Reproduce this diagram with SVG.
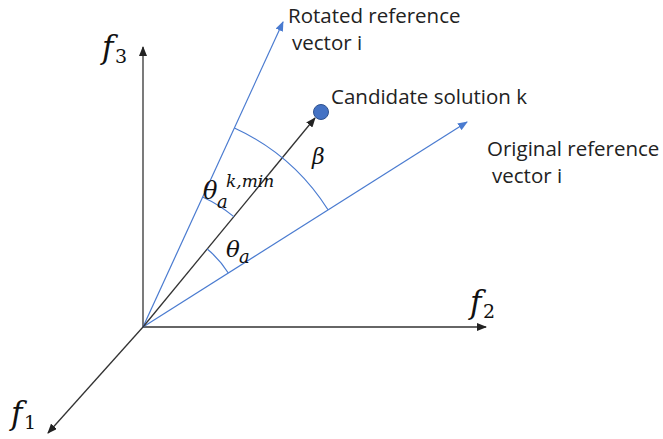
<svg xmlns="http://www.w3.org/2000/svg" width="663" height="439" viewBox="0 0 663 439">
<style>
.ax{stroke:#333;stroke-width:1.3;fill:none}
.bl{stroke:#4A7BD0;stroke-width:1.2;fill:none}
.lbl{font-family:"Open Sans","Liberation Sans",sans-serif;font-size:20.5px;fill:#222}
.m{font-family:"DejaVu Serif","Liberation Serif",serif;font-style:italic;fill:#111}
.sub{font-family:"DejaVu Serif","Liberation Serif",serif;font-style:normal;fill:#111}
</style>
<defs>
<marker id="ak" markerUnits="userSpaceOnUse" markerWidth="10" markerHeight="8" refX="9" refY="4" orient="auto"><path d="M0,0 L10,4 L0,8 Z" fill="#222"/></marker>
<marker id="ab" markerUnits="userSpaceOnUse" markerWidth="10" markerHeight="8" refX="9" refY="4" orient="auto"><path d="M0,0 L10,4 L0,8 Z" fill="#4A7BD0"/></marker>
</defs>
<rect width="663" height="439" fill="#fff"/>
<g id="connectors">
<line class="ax" x1="143" y1="327" x2="143" y2="47" marker-end="url(#ak)"/>
<line class="ax" x1="143" y1="327" x2="486" y2="327" marker-end="url(#ak)"/>
<line class="ax" x1="143" y1="327" x2="48" y2="433" marker-end="url(#ak)"/>
<line class="bl" x1="143" y1="327" x2="283" y2="22" marker-end="url(#ab)"/>
<line class="bl" x1="143" y1="327" x2="467" y2="122" marker-end="url(#ab)"/>
<line class="ax" x1="143" y1="327" x2="315" y2="118" marker-end="url(#ak)"/>
<path class="bl" d="M234.4,128 A219,219 0 0 1 328,209.8"/>
<path class="bl" d="M202.6,197 A143,143 0 0 1 233.8,216.6"/>
<path class="bl" d="M207.2,249 A101,101 0 0 1 228.3,273"/>
</g>
<g id="candidate">
<circle cx="321" cy="112" r="7.5" fill="#4472C4" stroke="#2F528F" stroke-width="1"/>
<text class="lbl" x="331" y="104">Candidate solution k</text>
</g>
<g id="rotated">
<text class="lbl" x="288" y="23">Rotated reference</text>
<text class="lbl" x="292" y="50">vector i</text>
</g>
<g id="original">
<text class="lbl" x="487" y="156">Original reference</text>
<text class="lbl" x="492" y="183">vector i</text>
</g>
<g id="f3"><text class="m" x="102" y="58" font-size="31">f</text><text class="sub" x="115" y="63" font-size="19">3</text></g>
<g id="f2"><text class="m" x="470" y="313" font-size="31">f</text><text class="sub" x="483" y="318" font-size="19">2</text></g>
<g id="f1"><text class="m" x="11" y="424" font-size="31">f</text><text class="sub" x="24" y="429" font-size="19">1</text></g>
<g id="beta"><text class="m" x="312" y="164" font-size="22">β</text></g>
<g id="thetakmin"><text class="m" x="203" y="199" font-size="24">θ</text><text class="m" x="217" y="208" font-size="18">a</text><text class="m" x="226" y="187" font-size="17">k,min</text></g>
<g id="thetaa"><text class="m" x="226" y="257" font-size="23">θ</text><text class="m" x="239" y="263" font-size="18">a</text></g>
</svg>
